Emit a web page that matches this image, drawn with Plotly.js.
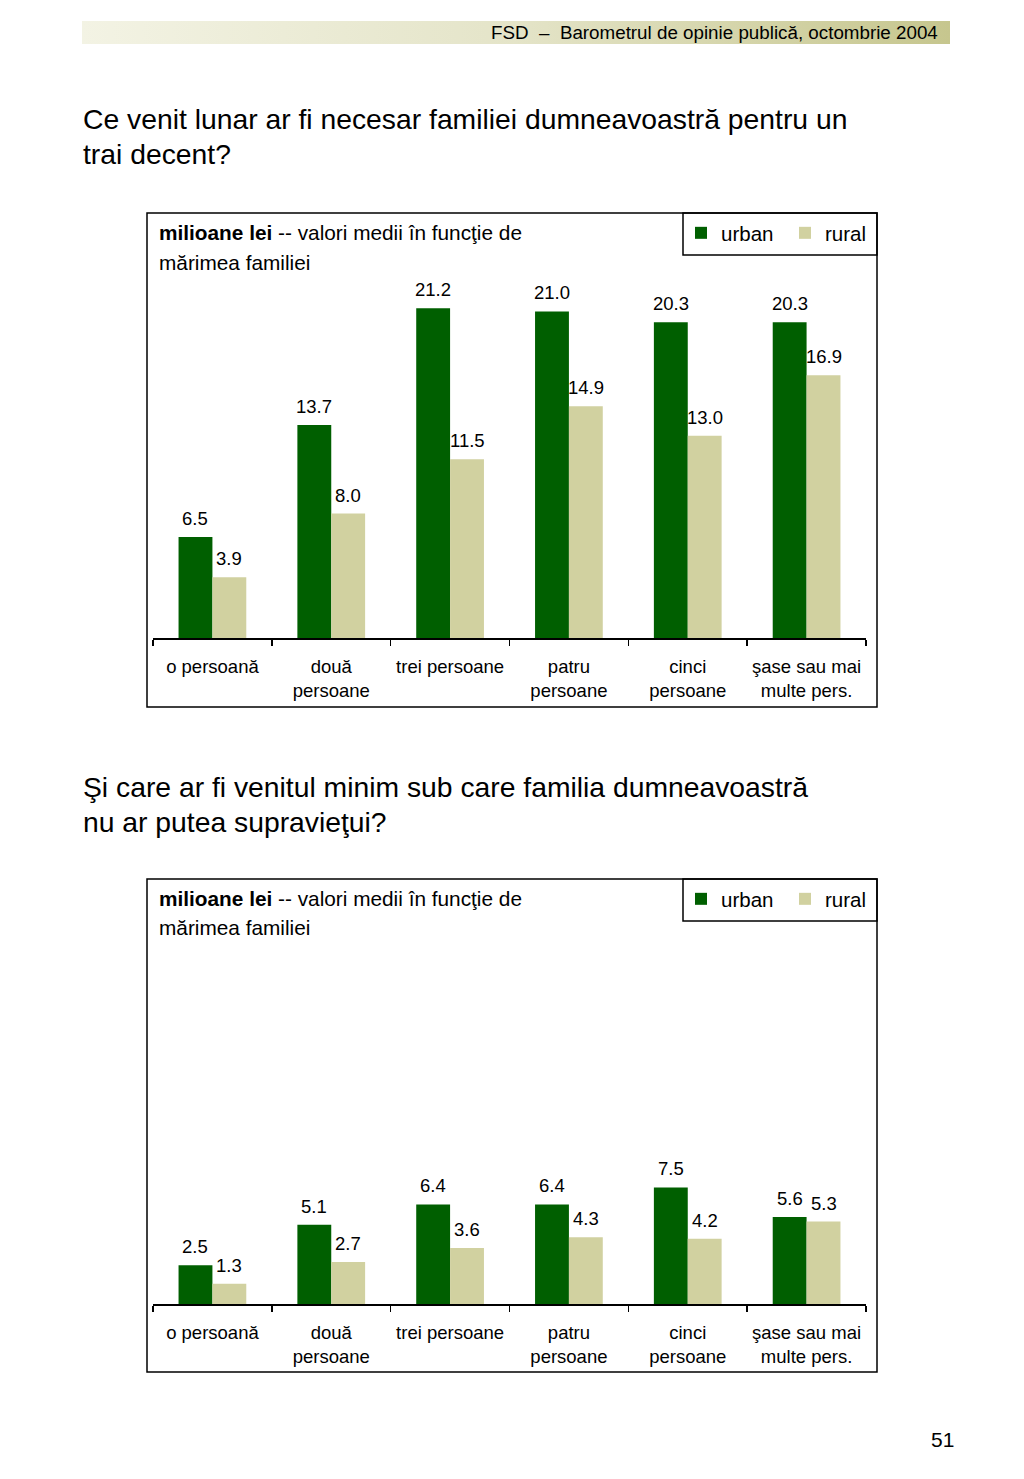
<!DOCTYPE html>
<html>
<head>
<meta charset="utf-8">
<script src="https://cdn.plot.ly/plotly-3.0.1.min.js"></script>
<style>
  body { margin: 0; background: white; }
  #page { width: 1024px; height: 1479px; }
</style>
</head>
<body>
<div id="page"></div>
<script>
// family size categories, shared by both charts
const CATEGORIES = [ 'o persoană', 'două<br>persoane', 'trei persoane',
	'patru<br>persoane', 'cinci<br>persoane', 'şase sau mai<br>multe pers.' ];

// chart 1: decent income, million lei
const DECENT_URBAN = [ 6.5, 13.7, 21.2, 21.0, 20.3, 20.3 ];
const DECENT_RURAL = [ 3.9,  8.0, 11.5, 14.9, 13.0, 16.9 ];

// chart 2: minimum income
const MINIM_URBAN  = [ 2.5, 5.1, 6.4, 6.4, 7.5, 5.6 ];
const MINIM_RURAL  = [ 1.3, 2.7, 3.6, 4.3, 4.2, 5.3 ];

const URBAN_COLOR = '#005f00';
const RURAL_COLOR = '#d1d1a0';
const FONT        = 'Liberation Sans, Arial, sans-serif';
const W = 1024, H = 1479;
const Y_MAX = 27.35;

const px = v => v / W;
const py = v => 1 - v / H;

// each legend entry sits in its own legend so it can be placed like the original
function make_bars( urban, rural, n ) {
	const sx = n === 1 ? 'x' : 'x2';
	const sy = n === 1 ? 'y' : 'y2';
	return [
		{ type: 'bar', x: CATEGORIES, y: urban, name: 'urban', xaxis: sx, yaxis: sy, showlegend: true,
		  legend: n === 1 ? 'legend' : 'legend2', marker: { color: URBAN_COLOR }, hoverinfo: 'skip' },
		{ type: 'bar', x: CATEGORIES, y: rural, name: 'rural', xaxis: sx, yaxis: sy, showlegend: true,
		  legend: n === 1 ? 'legend3' : 'legend4', marker: { color: RURAL_COLOR }, hoverinfo: 'skip' }
	];
}

function make_labels( urban, rural, n ) {
	const sx = n === 1 ? 'x' : 'x2';
	const sy = n === 1 ? 'y' : 'y2';
	let out = [];
	for ( let i = 0; i < CATEGORIES.length; i++ ) {
		[ [ urban[ i ], -17 ], [ rural[ i ], 17 ] ].forEach( function( p ) {
			out.push( {
				xref: sx, yref: sy, x: CATEGORIES[ i ], y: p[ 0 ],
				text: p[ 0 ].toFixed( 1 ), showarrow: false,
				xshift: p[ 1 ], yshift: 6, yanchor: 'bottom',
				font: { family: FONT, size: 18.5, color: '#000' }
			} );
		} );
	}
	return out;
}

function make_frame( top, bottom ) {
	return [
		{ type: 'rect', xref: 'paper', yref: 'paper', x0: px( 147 ), x1: px( 877 ),
		  y0: py( bottom ), y1: py( top ), line: { color: '#000', width: 1.5 } },
		{ type: 'rect', xref: 'paper', yref: 'paper', x0: px( 683 ), x1: px( 877 ),
		  y0: py( top + 42 ), y1: py( top ), line: { color: '#000', width: 1.5 } }
	];
}

function text_note( str, x, y, size, anchor ) {
	return { xref: 'paper', yref: 'paper', x: px( x ), y: py( y ), text: str,
		showarrow: false, xanchor: anchor || 'left', yanchor: 'middle', align: 'left',
		font: { family: FONT, size: size, color: '#000' } };
}

function axis_x( domain, anchor ) {
	return { domain: domain, anchor: anchor, type: 'category', showline: true,
		linecolor: '#000', linewidth: 1.5, ticks: 'outside', tickson: 'boundaries',
		ticklen: 6, tickwidth: 1.5, tickcolor: '#000', showgrid: false,
		ticklabelstandoff: 11,
		tickfont: { family: FONT, size: 18.5, color: '#000' }, fixedrange: true };
}

function axis_y( domain, anchor ) {
	return { domain: domain, anchor: anchor, range: [ 0, Y_MAX ], visible: false,
		showgrid: false, zeroline: false, fixedrange: true };
}

function legend_at( left, top ) {
	return { orientation: 'h', x: px( left ), y: py( top ), xanchor: 'left', yanchor: 'top',
		bgcolor: 'rgba(0,0,0,0)', borderwidth: 0,
		font: { family: FONT, size: 20.5, color: '#000' } };
}

const gradient = 'data:image/svg+xml;utf8,' + encodeURIComponent(
	'<svg xmlns="http://www.w3.org/2000/svg" width="868" height="23">' +
	'<defs><linearGradient id="g" x1="0" x2="1" y1="0" y2="0">' +
	'<stop offset="0" stop-color="#f3f3e4"/><stop offset="0.5" stop-color="#e4e4c8"/>' +
	'<stop offset="1" stop-color="#c6c68e"/>' +
	'</linearGradient></defs><rect width="868" height="23" fill="url(#g)"/></svg>' );

const traces = make_bars( DECENT_URBAN, DECENT_RURAL, 1 )
	.concat( make_bars( MINIM_URBAN, MINIM_RURAL, 2 ) );

let annotations = [
	text_note( 'FSD  –  Barometrul de opinie publică, octombrie 2004', 940, 33, 18.8, 'right' ),
	text_note( 'Ce venit lunar ar fi necesar familiei dumneavoastră pentru un', 81, 119, 28.3 ),
	text_note( 'trai decent?', 81, 154, 28.3 ),
	text_note( '<b>milioane lei</b> -- valori medii în funcţie de', 157, 233, 20.8 ),
	text_note( 'mărimea familiei', 157, 262, 20.8 ),
	text_note( 'Şi care ar fi venitul minim sub care familia dumneavoastră', 81, 787, 28.3 ),
	text_note( 'nu ar putea supravieţui?', 81, 822, 28.3 ),
	text_note( '<b>milioane lei</b> -- valori medii în funcţie de', 157, 898, 20.8 ),
	text_note( 'mărimea familiei', 157, 927, 20.8 ),
	text_note( '51', 956, 1439, 21, 'right' )
];
annotations = annotations
	.concat( make_labels( DECENT_URBAN, DECENT_RURAL, 1 ) )
	.concat( make_labels( MINIM_URBAN, MINIM_RURAL, 2 ) );

const layout = {
	width: W, height: H,
	margin: { l: 0, r: 0, t: 0, b: 0 },
	paper_bgcolor: 'white', plot_bgcolor: 'rgba(0,0,0,0)',
	showlegend: true,
	barmode: 'group', bargap: 0.43, bargroupgap: 0,
	font: { family: FONT, color: '#000' },
	xaxis : axis_x( [ px( 153 ), px( 866 ) ], 'y' ),
	yaxis : axis_y( [ py( 638 ), py( 638 - 15.55 * Y_MAX ) ], 'x' ),
	xaxis2: axis_x( [ px( 153 ), px( 866 ) ], 'y2' ),
	yaxis2: axis_y( [ py( 1304 ), py( 1304 - 15.55 * Y_MAX ) ], 'x2' ),
	legend : legend_at( 681, 213 ),
	legend3: legend_at( 785, 213 ),
	legend2: legend_at( 681, 879 ),
	legend4: legend_at( 785, 879 ),
	images: [ { source: gradient, xref: 'paper', yref: 'paper', x: px( 82 ), y: py( 21 ),
		sizex: px( 950 ) - px( 82 ), sizey: 23 / H, sizing: 'stretch', layer: 'below' } ],
	shapes: make_frame( 213, 707 ).concat( make_frame( 879, 1372 ) ),
	annotations: annotations
};

Plotly.newPlot( 'page', traces, layout, { staticPlot: true } );
</script>
</body>
</html>
